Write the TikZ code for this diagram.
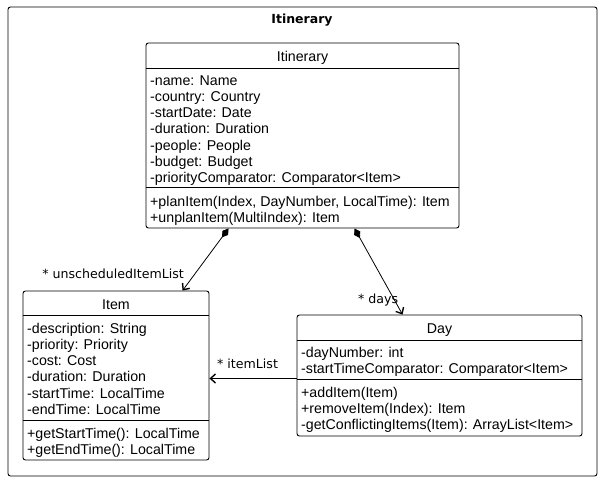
\documentclass[tikz,border=0pt]{standalone}
\usepackage{fontspec}
\setmainfont{Liberation Sans}
\newfontfamily\rolefont{DejaVu Sans}
\usetikzlibrary{arrows.meta,positioning,calc}

\newcommand{\memstrut}{\rule{0pt}{11pt}}

\tikzset{
  classbox/.style={draw, rounded corners=2.5pt, line width=0.9pt, inner sep=0pt},
  classname/.style={font=\fontsize{14.2}{16.2}\selectfont, inner sep=0pt, anchor=base},
  members/.style={font=\fontsize{14.2}{16.2}\selectfont, align=left, anchor=north west, inner sep=0pt},
  rolelabel/.style={font=\rolefont\fontsize{12.6}{14}\selectfont, inner sep=0pt},
  compose/.style={line width=0.8pt, {Diamond[length=11pt,width=7pt]}-{Straight Barb[length=5pt,width=9pt,line width=1.4pt]}},
  assoc/.style={line width=0.8pt, -{Straight Barb[length=5pt,width=9pt,line width=1.4pt]}},
}

\begin{document}
\begin{tikzpicture}[x=1pt,y=-1pt]
\useasboundingbox (0,0) rectangle (602,482);
% package frame
\node[classbox, minimum width=589, minimum height=469] (pkg) at (302.5,241.5) {};
\node[font=\rolefont\bfseries\fontsize{12.5}{14}\selectfont, inner sep=0pt, anchor=base] (pkg-title) at (302,23) {Itinerary};

% Itinerary class
\node[classbox, minimum width=313, minimum height=185] (itin) at (302.5,135.5) {};
\node[classname] (itin-name) at (302.5,61) {Itinerary};
\draw[line width=0.8pt] ($(itin.north west)+(0,26)$) -- ($(itin.north east)+(0,26)$);
\draw[line width=0.8pt] ($(itin.north west)+(0,145)$) -- ($(itin.north east)+(0,145)$);
\node[members] (itin-attr) at (150,74) {\memstrut-name: Name\\-country: Country\\-startDate: Date\\-duration: Duration\\-people: People\\-budget: Budget\\-priorityComparator: Comparator<Item>};
\node[members] (itin-ops) at (150,195) {\memstrut+planItem(Index, DayNumber, LocalTime): Item\\+unplanItem(MultiIndex): Item};

% Item class
\node[classbox, minimum width=186, minimum height=169] (item) at (116,375.5) {};
\node[classname] (item-name) at (116,309) {Item};
\draw[line width=0.8pt] ($(item.north west)+(0,25)$) -- ($(item.north east)+(0,25)$);
\draw[line width=0.8pt] ($(item.north west)+(0,130)$) -- ($(item.north east)+(0,130)$);
\node[members] (item-attr) at (27,322) {\memstrut-description: String\\-priority: Priority\\-cost: Cost\\-duration: Duration\\-startTime: LocalTime\\-endTime: LocalTime};
\node[members] (item-ops) at (27,427) {\memstrut+getStartTime(): LocalTime\\+getEndTime(): LocalTime};

% Day class
\node[classbox, minimum width=285, minimum height=121] (day) at (439.5,375.5) {};
\node[classname] (day-name) at (439.5,333) {Day};
\draw[line width=0.8pt] ($(day.north west)+(0,26)$) -- ($(day.north east)+(0,26)$);
\draw[line width=0.8pt] ($(day.north west)+(0,65)$) -- ($(day.north east)+(0,65)$);
\node[members] (day-attr) at (301,346) {\memstrut-dayNumber: int\\-startTimeComparator: Comparator<Item>};
\node[members] (day-ops) at (301,386) {\memstrut+addItem(Item)\\+removeItem(Index): Item\\-getConflictingItems(Item): ArrayList<Item>};

% associations
\draw[compose] ($(itin.south west)+(83,0)$) -- ($(item.north west)+(160,0)$);
\draw[compose] ($(itin.south west)+(209,0)$) -- ($(day.north west)+(106,0)$);
\draw[assoc] ($(day.west)+(0,3)$) -- ($(item.east)+(0,3)$);
\node[rolelabel, anchor=base east] (lbl-unsched) at (184,278) {* unscheduledItemList};
\node[rolelabel, anchor=base west] (lbl-days) at (358,303) {* days};
\node[rolelabel, anchor=base west] (lbl-itemlist) at (217,368) {* itemList};
\end{tikzpicture}
\end{document}
